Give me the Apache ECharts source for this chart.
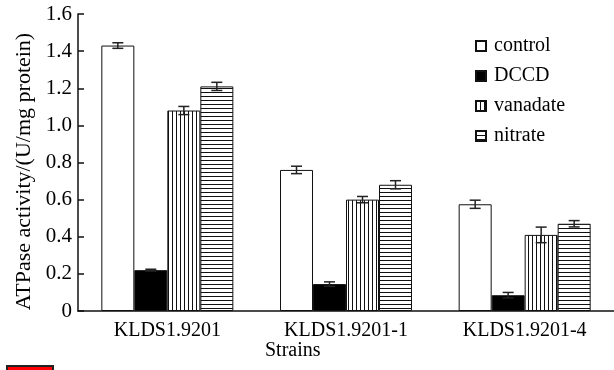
<!DOCTYPE html>
<html>
<head>
<meta charset="utf-8">
<script src="https://cdn.jsdelivr.net/npm/echarts@6/dist/echarts.min.js"></script>
<style>
  html, body { margin: 0; padding: 0; background: #fff; }
  #chart { width: 614px; height: 370px; }
</style>
</head>
<body>
<div id="chart"></div>
<script>
const categories = ['KLDS1.9201', 'KLDS1.9201-1', 'KLDS1.9201-4'];
const seriesNames = ['control', 'DCCD', 'vanadate', 'nitrate'];
const controlValues = [1.43, 0.76, 0.575];
const controlErr = [0.015, 0.02, 0.022];
const dccdValues = [0.22, 0.145, 0.085];
const dccdErr = [0.005, 0.012, 0.015];
const vanadateValues = [1.08, 0.60, 0.41];
const vanadateErr = [0.022, 0.017, 0.042];
const nitrateValues = [1.21, 0.68, 0.47];
const nitrateErr = [0.022, 0.022, 0.017];
const yTicks = [0, 0.2, 0.4, 0.6, 0.8, 1.0, 1.2, 1.4, 1.6];

const FONT = '"Liberation Serif", "Times New Roman", serif';
const BAR_W = 33;

function stripes(vertical) {
  const c = document.createElement('canvas');
  c.width = 4; c.height = 4;
  const ctx = c.getContext('2d');
  ctx.fillStyle = '#fff';
  ctx.fillRect(0, 0, 4, 4);
  ctx.fillStyle = '#111';
  if (vertical) ctx.fillRect(0, 0, 1, 4);
  else ctx.fillRect(0, 0, 4, 1);
  return { image: c, repeat: 'repeat' };
}

const fills = ['#fff', '#000', stripes(true), stripes(false)];
const allValues = [controlValues, dccdValues, vanadateValues, nitrateValues];
const allErr = [controlErr, dccdErr, vanadateErr, nitrateErr];

const dom = document.getElementById('chart');
const myChart = echarts.init(dom, null, { renderer: 'canvas' });

const barSeries = seriesNames.map((name, i) => ({
  name: name,
  type: 'bar',
  barWidth: BAR_W,
  barGap: 0,
  data: allValues[i],
  itemStyle: { color: fills[i], borderColor: '#111', borderWidth: 1 }
}));

// error bars, shifted to the centre of each bar in the group
const errSeries = seriesNames.map((name, i) => ({
  type: 'custom',
  z: 5,
  silent: true,
  data: allValues[i].map((v, k) => [k, v - allErr[i][k], v + allErr[i][k]]),
  renderItem: function (params, api) {
    const lo = api.coord([api.value(0), api.value(1)]);
    const hi = api.coord([api.value(0), api.value(2)]);
    const x = lo[0] + (i - 1.5) * BAR_W;
    const cap = 5.5;
    const style = { stroke: '#222', lineWidth: 1.5 };
    return {
      type: 'group',
      children: [
        { type: 'line', shape: { x1: x, y1: lo[1], x2: x, y2: hi[1] }, style: style },
        { type: 'line', shape: { x1: x - cap, y1: hi[1], x2: x + cap, y2: hi[1] }, style: style },
        { type: 'line', shape: { x1: x - cap, y1: lo[1], x2: x + cap, y2: lo[1] }, style: style }
      ]
    };
  }
}));

const option = {
  animation: false,
  backgroundColor: '#fff',
  textStyle: { fontFamily: FONT },
  grid: { left: 78, right: 0, top: 14, bottom: 59 },
  legend: {
    data: seriesNames,
    orient: 'vertical',
    left: 470,
    top: 31,
    itemWidth: 10,
    itemHeight: 10,
    itemGap: 10,
    icon: 'rect',
    textStyle: { fontFamily: FONT, fontSize: 20, color: '#000', padding: [0, 0, 0, 3] }
  },
  xAxis: {
    type: 'category',
    data: categories,
    axisLine: { lineStyle: { color: '#111', width: 1.5 } },
    axisTick: { inside: true, length: 7, lineStyle: { color: '#111', width: 1.5 } },
    axisLabel: { margin: 10, fontFamily: FONT, fontSize: 20, color: '#000' }
  },
  yAxis: {
    type: 'value',
    min: 0,
    max: 1.6,
    interval: 0.2,
    name: 'ATPase activity/(U/mg protein)',
    nameLocation: 'middle',
    nameGap: 40,
    nameTextStyle: { fontFamily: FONT, fontSize: 22, color: '#000', padding: [0, 18, 0, 0] },
    splitLine: { show: false },
    axisLine: { show: true, lineStyle: { color: '#111', width: 1.5 } },
    axisTick: { show: true, inside: true, length: 6, lineStyle: { color: '#111', width: 1.5 } },
    axisLabel: {
      margin: 6,
      fontFamily: FONT,
      fontSize: 21,
      color: '#000',
      formatter: v => (yTicks.indexOf(v) === 0 ? '0' : v.toFixed(1))
    }
  },
  graphic: [
    {
      type: 'text',
      left: 265,
      top: 341,
      style: { text: 'Strains', font: '20px ' + FONT, fill: '#000' }
    },
    {
      type: 'rect',
      left: 6,
      top: 365,
      shape: { width: 46, height: 12 },
      style: { fill: '#ff0000', stroke: '#222', lineWidth: 2 }
    }
  ],
  series: barSeries.concat(errSeries)
};

myChart.setOption(option);
</script>
</body>
</html>
